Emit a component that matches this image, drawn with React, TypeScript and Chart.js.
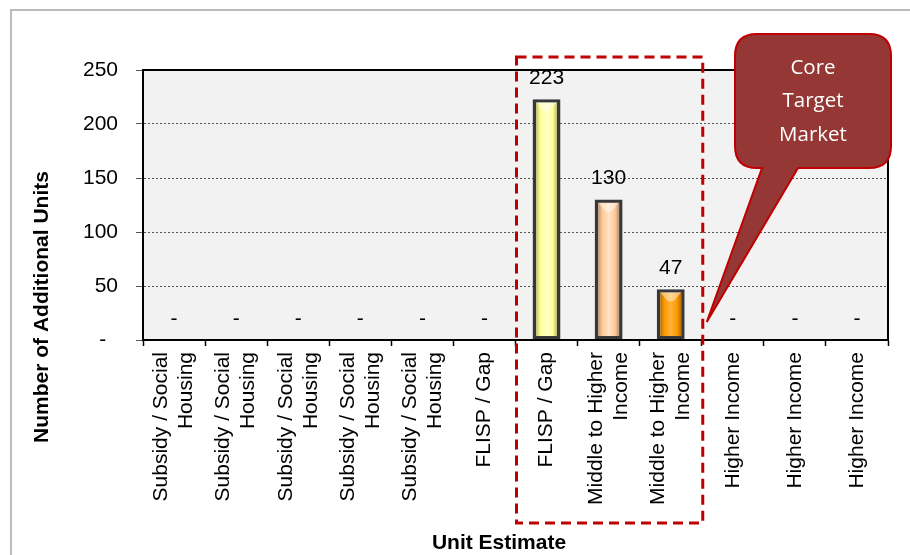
import React, { useEffect, useRef } from "react";
import { Chart, registerables } from "chart.js";

Chart.register(...registerables);

// Housing segment for each unit-estimate column
const categories: (string | string[])[] = [
  ["Subsidy / Social", "Housing"],
  ["Subsidy / Social", "Housing"],
  ["Subsidy / Social", "Housing"],
  ["Subsidy / Social", "Housing"],
  ["Subsidy / Social", "Housing"],
  "FLISP / Gap",
  "FLISP / Gap",
  ["Middle to Higher", "Income"],
  ["Middle to Higher", "Income"],
  "Higher Income",
  "Higher Income",
  "Higher Income",
];

// Number of additional units per column
const unitValues = [0, 0, 0, 0, 0, 0, 223, 130, 47, 0, 0, 0];

// First and last column of the core target market
const coreFirst = 6;
const coreLast = 8;
const calloutLines = ["Core", "Target", "Market"];

const yTitle = "Number of Additional Units";
const xTitle = "Unit Estimate";

// [edge, body, highlight] shades for each column's bar
const barShades: [string, string, string][] = [
  ["#777", "#ccc", "#eee"],
  ["#777", "#ccc", "#eee"],
  ["#777", "#ccc", "#eee"],
  ["#777", "#ccc", "#eee"],
  ["#777", "#ccc", "#eee"],
  ["#777", "#ccc", "#eee"],
  ["#8a8a4c", "#ffff99", "#ffffc0"],
  ["#8a6c55", "#ffcc99", "#ffe2c4"],
  ["#844e00", "#ff9900", "#ffb43c"],
  ["#777", "#ccc", "#eee"],
  ["#777", "#ccc", "#eee"],
  ["#777", "#ccc", "#eee"],
];

const FONT = "'Liberation Sans', Arial, sans-serif";
const FONT_SIZE = 21;
const LINE_H = 25;
const BAR_FRACTION = 0.45;

function makeGradient(ctx: CanvasRenderingContext2D, left: number, right: number, i: number) {
  const [edge, body, hi] = barShades[i];
  const g = ctx.createLinearGradient(left, 0, right, 0);
  g.addColorStop(0, edge);
  g.addColorStop(0.28, body);
  g.addColorStop(0.5, hi);
  g.addColorStop(0.72, body);
  g.addColorStop(1, edge);
  return g;
}

function roundedPath(ctx: CanvasRenderingContext2D, l: number, t: number, r: number, b: number, rad: number,
  tail: { x0: number; x1: number; tipX: number; tipY: number }) {
  ctx.beginPath();
  ctx.moveTo(l + rad, t);
  ctx.lineTo(r - rad, t);
  ctx.quadraticCurveTo(r, t, r, t + rad);
  ctx.lineTo(r, b - rad);
  ctx.quadraticCurveTo(r, b, r - rad, b);
  ctx.lineTo(tail.x1, b);
  ctx.lineTo(tail.tipX, tail.tipY);
  ctx.lineTo(tail.x0, b);
  ctx.lineTo(l + rad, b);
  ctx.quadraticCurveTo(l, b, l, b - rad);
  ctx.lineTo(l, t + rad);
  ctx.quadraticCurveTo(l, t, l + rad, t);
  ctx.closePath();
}

const decorPlugin = {
  id: "decor",
  beforeDraw(chart: any) {
    const { ctx, chartArea: a, width, height } = chart;
    ctx.save();
    ctx.fillStyle = "#ffffff";
    ctx.fillRect(0, 0, width, height);
    ctx.strokeStyle = "#a6a6a6";
    ctx.lineWidth = 1.5;
    ctx.beginPath();
    ctx.moveTo(11, height + 2);
    ctx.lineTo(11, 10);
    ctx.lineTo(width + 2, 10);
    ctx.stroke();
    ctx.fillStyle = "#f2f2f2";
    ctx.fillRect(a.left, a.top, a.right - a.left, a.bottom - a.top);
    ctx.restore();
  },
  beforeDatasetsDraw(chart: any) {
    const meta = chart.getDatasetMeta(0);
    meta.data.forEach((el: any, i: number) => {
      const half = el.width / 2;
      if (isFinite(el.x) && isFinite(half) && half > 0) {
        el.options.backgroundColor = makeGradient(chart.ctx, el.x - half, el.x + half, i);
      }
    });
  },
  afterDatasetsDraw(chart: any) {
    const { ctx, chartArea: a } = chart;
    const xs = chart.scales.x;
    const meta = chart.getDatasetMeta(0);
    ctx.save();

    // bevel highlight at the top of each bar
    meta.data.forEach((el: any, i: number) => {
      if (unitValues[i] === 0) return;
      const half = el.width / 2 - 3.5;
      const top = el.y + 3;
      ctx.beginPath();
      ctx.moveTo(el.x - half, top);
      ctx.lineTo(el.x + half, top);
      ctx.lineTo(el.x + 3, top + 9);
      ctx.lineTo(el.x - 3, top + 9);
      ctx.closePath();
      ctx.fillStyle = "rgba(255,255,255,0.45)";
      ctx.fill();
    });

    // plot frame
    ctx.strokeStyle = "#000";
    ctx.lineWidth = 2;
    ctx.strokeRect(a.left, a.top, a.right - a.left, a.bottom - a.top);

    // value labels
    ctx.fillStyle = "#000";
    ctx.font = `${FONT_SIZE}px ${FONT}`;
    ctx.textAlign = "center";
    ctx.textBaseline = "middle";
    meta.data.forEach((el: any, i: number) => {
      const v = unitValues[i];
      ctx.fillText(v === 0 ? "-" : String(v), el.x, el.y - 21);
    });

    // category labels, read bottom-to-top, lines centred on each column
    ctx.textAlign = "right";
    categories.forEach((lab, i) => {
      const lines = Array.isArray(lab) ? lab : [lab];
      const cx = xs.getPixelForValue(i);
      lines.forEach((line, k) => {
        const off = (k - (lines.length - 1) / 2) * LINE_H;
        ctx.save();
        ctx.translate(cx + off, a.bottom + 12);
        ctx.rotate(-Math.PI / 2);
        ctx.fillText(line, 0, 0);
        ctx.restore();
      });
    });

    // axis titles
    ctx.textAlign = "center";
    ctx.font = `bold ${FONT_SIZE}px ${FONT}`;
    ctx.fillText(xTitle, 499, 543);
    ctx.save();
    ctx.translate(42, 307);
    ctx.rotate(-Math.PI / 2);
    ctx.fillText(yTitle, 0, 0);
    ctx.restore();

    // dashed frame around the core target market columns
    const step = xs.width / categories.length;
    const boxL = xs.getPixelForValue(coreFirst) - step / 2 + 1;
    const boxR = xs.getPixelForValue(coreLast) + step / 2 + 1;
    ctx.strokeStyle = "#c00000";
    ctx.lineWidth = 3;
    ctx.setLineDash([10, 6]);
    ctx.strokeRect(boxL, a.top - 13, boxR - boxL, 523 - (a.top - 13));
    ctx.setLineDash([]);

    // callout
    roundedPath(ctx, 735, 34, 891, 168, 22, { x0: 762, x1: 798, tipX: boxR + 4, tipY: 322 });
    ctx.fillStyle = "#953735";
    ctx.fill();
    ctx.strokeStyle = "#c00000";
    ctx.lineWidth = 2;
    ctx.stroke();
    ctx.fillStyle = "#ffffff";
    ctx.font = `20.5px 'Open Sans', 'Noto Sans', sans-serif`;
    calloutLines.forEach((t, k) => ctx.fillText(t, 813, 68 + k * 33.5));

    ctx.restore();
  },
};

export default function App() {
  const canvasRef = useRef<HTMLCanvasElement | null>(null);

  useEffect(() => {
    if (!canvasRef.current) return;
    const chart = new Chart(canvasRef.current, {
      type: "bar",
      data: {
        labels: categories,
        datasets: [
          {
            data: unitValues,
            backgroundColor: (c: any) => (c.dataIndex === undefined ? "#ccc" : barShades[c.dataIndex][1]),
            borderColor: "#383838",
            borderWidth: (c: any) => (unitValues[c.dataIndex] === 0 ? 0 : 3.5),
            borderSkipped: false,
            categoryPercentage: 1,
            barPercentage: BAR_FRACTION,
          },
        ],
      },
      options: {
        responsive: false,
        animation: false,
        devicePixelRatio: 1,
        layout: { padding: { left: 0, top: 70, right: 22, bottom: 0 } },
        plugins: { legend: { display: false }, tooltip: { enabled: false } },
        scales: {
          x: {
            afterFit: (s: any) => { s.height = 215; },
            grid: { drawOnChartArea: false, drawTicks: true, tickLength: 6, color: "#000", tickColor: "#000", tickWidth: 1.5 },
            border: { display: true, color: "#000", width: 2 },
            ticks: {
              autoSkip: false,
              maxRotation: 90,
              minRotation: 90,
              padding: 6,
              color: "rgba(0,0,0,0)",
              font: { family: FONT, size: FONT_SIZE, lineHeight: 1.2 },
            },
          },
          y: {
            min: 0,
            max: 250,
            afterFit: (s: any) => { s.width = 143; },
            grid: { color: "#555", tickLength: 7, lineWidth: 1 },
            border: { display: true, color: "#000", width: 2, dash: [2, 2] },
            ticks: {
              stepSize: 50,
              padding: 18,
              color: "#000",
              font: { family: FONT, size: FONT_SIZE },
              callback: (v: any) => (Number(v) === 0 ? "-  " : String(v)),
            },
          },
        },
      },
      plugins: [decorPlugin],
    } as any);
    return () => chart.destroy();
  }, []);

  return (
    <div style={{ position: "fixed", left: 0, top: 0, width: 910, height: 555, background: "#fff" }}>
      <canvas ref={canvasRef} width={910} height={555} style={{ display: "block" }} />
    </div>
  );
}
